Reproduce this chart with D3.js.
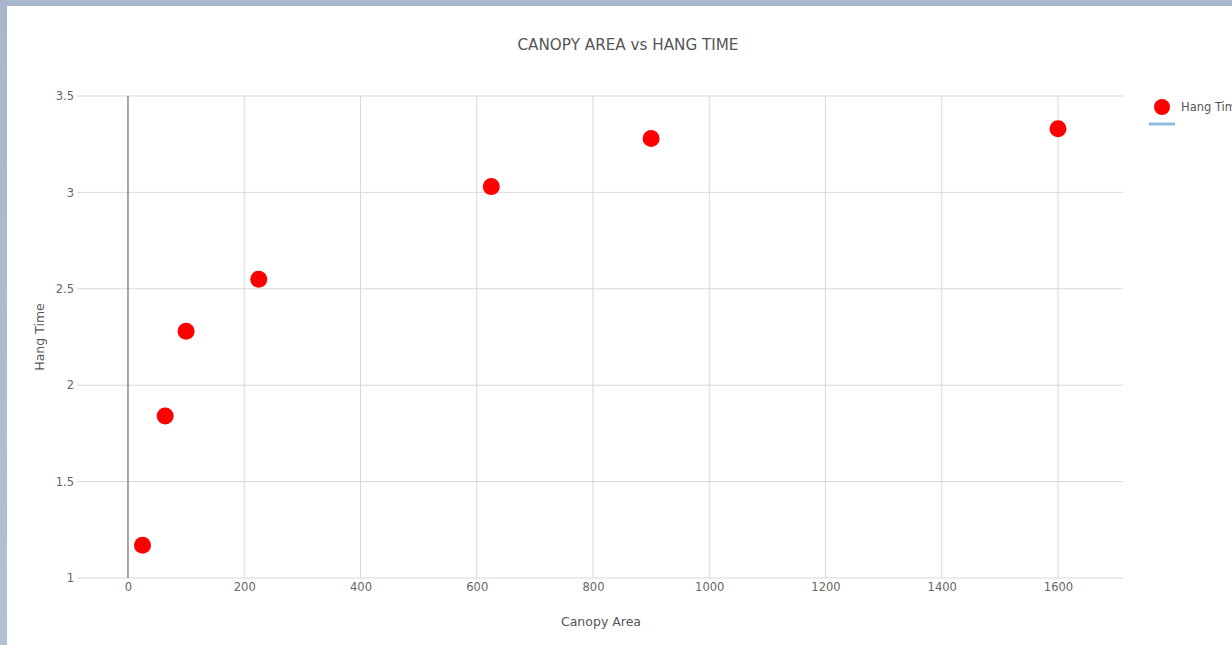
<!DOCTYPE html>
<html><head><meta charset="utf-8">
<script src="https://cdn.jsdelivr.net/npm/d3@7"></script>
<style>
body{margin:0;background:#a8b7cb;}
svg{display:block;}
</style></head>
<body>
<svg id="chart" width="1232" height="645"></svg>
<script>
const canopyArea = [25, 64, 100, 225, 625, 900, 1600];
const hangTime = [1.17, 1.84, 2.28, 2.55, 3.03, 3.28, 3.33];
const xTicks = [0, 200, 400, 600, 800, 1000, 1200, 1400, 1600];
const yTicks = [1, 1.5, 2, 2.5, 3, 3.5];
const seriesName = "Hang Time";
const titleText = "CANOPY AREA vs HANG TIME";
const xTitle = "Canopy Area";
const yTitle = "Hang Time";

const svg = d3.select("#chart");
const font = "'DejaVu Sans', Verdana, sans-serif";

// background frame
const bg = svg.append("defs").append("linearGradient").attr("id","bgg").attr("x1","0").attr("y1","0").attr("x2","0").attr("y2","1");
bg.append("stop").attr("offset","0").attr("stop-color","#a7b6ca");
bg.append("stop").attr("offset","1").attr("stop-color","#b3c0d2");
svg.append("rect").attr("width",1232).attr("height",645).attr("fill","url(#bgg)");
svg.append("rect").attr("x",7).attr("y",6).attr("width",1225).attr("height",639).attr("fill","#fff");

const L = 77, R = 1123, T = 96, B = 578;
const x = d3.scaleLinear().domain([-87.7, 1711.8]).range([L, R]);
const y = d3.scaleLinear().domain([1, 3.5]).range([B, T]);

// grid
const g = svg.append("g");
g.selectAll(".vg").data(xTicks.filter(d => d !== 0)).join("line")
  .attr("x1", d => x(d)).attr("x2", d => x(d)).attr("y1", T).attr("y2", B)
  .attr("stroke", "#d9d9d9").attr("stroke-width", 1);
g.selectAll(".hg").data(yTicks).join("line")
  .attr("x1", L).attr("x2", R).attr("y1", d => y(d)).attr("y2", d => y(d))
  .attr("stroke", "#d9d9d9").attr("stroke-width", 1);
// zero line
g.append("line").attr("x1", x(0)).attr("x2", x(0)).attr("y1", T).attr("y2", B)
  .attr("stroke", "#888").attr("stroke-width", 1.5);

// axes labels
const xAxis = d3.axisBottom(x).tickValues(xTicks).tickSize(0).tickPadding(5).tickFormat(d3.format("d"));
const xa = svg.append("g").attr("transform", `translate(0,${B})`).call(xAxis);
xa.select(".domain").remove();
xa.selectAll("text").attr("font-family", font).attr("font-size", 11.5).attr("fill", "#666");

const yAxis = d3.axisLeft(y).tickValues(yTicks).tickSize(0).tickPadding(3).tickFormat(d3.format("~g"));
const ya = svg.append("g").attr("transform", `translate(${L},0)`).call(yAxis);
ya.select(".domain").remove();
ya.selectAll("text").attr("font-family", font).attr("font-size", 11.5).attr("fill", "#666");

// points
svg.append("g").selectAll("circle").data(canopyArea.map((a, i) => [a, hangTime[i]])).join("circle")
  .attr("cx", d => x(d[0])).attr("cy", d => y(d[1])).attr("r", 8.5).attr("fill", "#ff0000");

// titles
svg.append("text").attr("x", 628).attr("y", 50).attr("text-anchor", "middle")
  .attr("font-family", font).attr("font-size", 15.2).attr("fill", "#555").text(titleText);
svg.append("text").attr("x", 601).attr("y", 626).attr("text-anchor", "middle")
  .attr("font-family", font).attr("font-size", 12.5).attr("fill", "#555").text(xTitle);
svg.append("text").attr("transform", "translate(44,337) rotate(-90)").attr("text-anchor", "middle")
  .attr("font-family", font).attr("font-size", 12.5).attr("fill", "#555").text(yTitle);

// legend
const lg = svg.append("g");
lg.append("circle").attr("cx", 1162).attr("cy", 107).attr("r", 8).attr("fill", "#ff0000");
lg.append("text").attr("x", 1181).attr("y", 111).attr("font-family", font).attr("font-size", 11.5)
  .attr("fill", "#555").text(seriesName);
lg.append("line").attr("x1", 1149).attr("x2", 1175).attr("y1", 124).attr("y2", 124)
  .attr("stroke", "#8dbbdc").attr("stroke-width", 3);
</script>
</body></html>
